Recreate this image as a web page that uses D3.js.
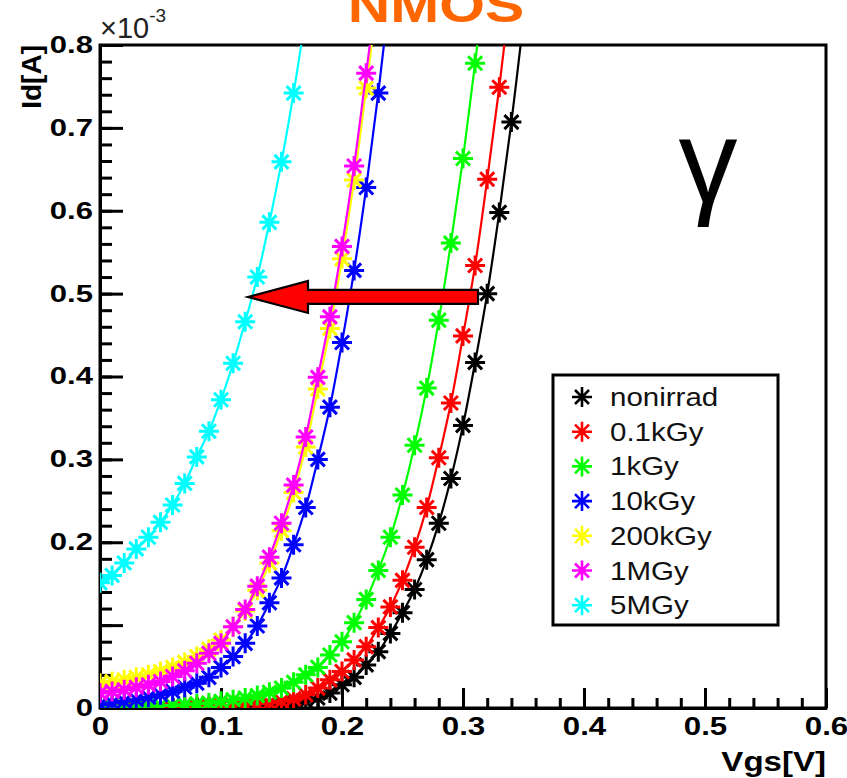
<!DOCTYPE html>
<html>
<head>
<meta charset="utf-8">
<script src="https://cdn.jsdelivr.net/npm/d3@7"></script>
<style>
  body { margin: 0; background: #fff; }
  svg { display: block; }
  text { font-family: "Liberation Sans", Arial, sans-serif; }
</style>
</head>
<body>
<svg id="chart" width="847" height="778"></svg>
<script>
// Vgs grid (V), one point every 10 mV
const vgs = [0, 0.01, 0.02, 0.03, 0.04, 0.05, 0.06, 0.07, 0.08, 0.09,
  0.10, 0.11, 0.12, 0.13, 0.14, 0.15, 0.16, 0.17, 0.18, 0.19,
  0.20, 0.21, 0.22, 0.23, 0.24, 0.25, 0.26, 0.27, 0.28, 0.29,
  0.30, 0.31, 0.32, 0.33, 0.34, 0.35];

// Id in units of 1e-3 A
const idNonirrad = [0.000, 0.000, 0.000, 0.000, 0.000, 0.001, 0.001, 0.001, 0.001, 0.001,
  0.002, 0.002, 0.002, 0.003, 0.003, 0.004, 0.006, 0.008, 0.012, 0.018,
  0.028, 0.037, 0.052, 0.068, 0.090, 0.115, 0.143, 0.179, 0.223, 0.277,
  0.341, 0.417, 0.500, 0.598, 0.707, 0.830];
const id01kGy = [0.000, 0.000, 0.000, 0.001, 0.001, 0.001, 0.001, 0.001, 0.002, 0.002,
  0.002, 0.003, 0.004, 0.005, 0.006, 0.008, 0.011, 0.016, 0.024, 0.034,
  0.044, 0.058, 0.074, 0.097, 0.122, 0.154, 0.194, 0.242, 0.302, 0.368,
  0.449, 0.534, 0.638, 0.749, 0.875];
const id1kGy = [0.001, 0.001, 0.002, 0.002, 0.002, 0.003, 0.003, 0.004, 0.005, 0.006,
  0.008, 0.010, 0.012, 0.015, 0.019, 0.024, 0.031, 0.040, 0.049, 0.064,
  0.080, 0.103, 0.131, 0.166, 0.206, 0.257, 0.317, 0.386, 0.468, 0.561,
  0.663, 0.778, 0.900];
const id10kGy = [0.004, 0.006, 0.008, 0.010, 0.013, 0.016, 0.020, 0.025, 0.030, 0.037,
  0.049, 0.062, 0.078, 0.099, 0.127, 0.157, 0.197, 0.242, 0.300, 0.363,
  0.441, 0.528, 0.628, 0.742, 0.870];
const id200kGy = [0.030, 0.032, 0.034, 0.037, 0.040, 0.044, 0.049, 0.055, 0.062, 0.071,
  0.082, 0.098, 0.117, 0.142, 0.175, 0.214, 0.260, 0.315, 0.385, 0.458,
  0.542, 0.637, 0.748, 0.865];
const id1MGy = [0.018, 0.020, 0.022, 0.025, 0.028, 0.032, 0.038, 0.045, 0.054, 0.066,
  0.078, 0.098, 0.119, 0.147, 0.182, 0.223, 0.269, 0.327, 0.399, 0.472,
  0.557, 0.654, 0.766, 0.880];
const id5MGy = [0.151, 0.160, 0.175, 0.192, 0.206, 0.224, 0.245, 0.271, 0.303, 0.334,
  0.372, 0.416, 0.466, 0.520, 0.586, 0.659, 0.742, 0.835];

const seriesNames = ["nonirrad", "0.1kGy", "1kGy", "10kGy", "200kGy", "1MGy", "5MGy"];
const seriesColors = ["#000000", "#ff0000", "#00ff00", "#0000ff", "#ffff00", "#ff00ff", "#00ffff"];
const seriesValues = [idNonirrad, id01kGy, id1kGy, id10kGy, id200kGy, id1MGy, id5MGy];

const xTicks = [0, 0.1, 0.2, 0.3, 0.4, 0.5, 0.6];
const xLabels = ["0", "0.1", "0.2", "0.3", "0.4", "0.5", "0.6"];
const yTicks = [0, 0.1, 0.2, 0.3, 0.4, 0.5, 0.6, 0.7, 0.8];
const yLabels = ["0", "", "0.2", "0.3", "0.4", "0.5", "0.6", "0.7", "0.8"];

// arrow: from nonirrad at 0.5e-3 A over to the 5MGy curve
const arrowFrom = [0.3124, 0.496];
const arrowTo = [0.1223, 0.496];

const svg = d3.select("#chart");
const padL = 100, padR = 826, padT = 45, padB = 708;

const x = d3.scaleLinear().domain([0, 0.6]).range([padL, padR]);
const y = d3.scaleLinear().domain([0, 0.8]).range([padB, padT]);

// stretch text horizontally, the original picture is a bit wide
function stretch(sel, k) {
  sel.each(function () {
    const w = this.getComputedTextLength();
    if (w > 0) d3.select(this).attr("textLength", w * k).attr("lengthAdjust", "spacingAndGlyphs");
  });
}

svg.append("defs").append("clipPath").attr("id", "plotclip")
  .append("rect").attr("x", padL).attr("y", padT).attr("width", padR - padL).attr("height", padB - padT);

// minor ticks
const yMinor = svg.append("g").attr("transform", `translate(${padL},0)`)
  .call(d3.axisLeft(y).tickValues(d3.range(0, 41).map(i => i * 0.02)).tickSize(-12).tickSizeOuter(0).tickFormat(""));
const xMinor = svg.append("g").attr("transform", `translate(0,${padB})`)
  .call(d3.axisBottom(x).tickValues(d3.range(0, 31).map(i => i * 0.02)).tickSize(-10).tickSizeOuter(0).tickFormat(""));

// major ticks + labels
const yAxis = svg.append("g").attr("transform", `translate(${padL},0)`)
  .call(d3.axisLeft(y).tickValues(yTicks).tickSize(-23).tickSizeOuter(0).tickPadding(7)
    .tickFormat((d, i) => yLabels[i]));
const xAxis = svg.append("g").attr("transform", `translate(0,${padB})`)
  .call(d3.axisBottom(x).tickValues(xTicks).tickSize(-20).tickSizeOuter(0).tickPadding(9)
    .tickFormat((d, i) => xLabels[i]));

[yMinor, xMinor, yAxis, xAxis].forEach(g => {
  g.selectAll("line").attr("stroke", "#000").attr("stroke-width", 3);
  g.select(".domain").attr("stroke", "#000").attr("stroke-width", 3);
});
yAxis.selectAll("text").attr("font-size", 23).attr("font-weight", "bold").attr("fill", "#000")
  .call(stretch, 1.35);
xAxis.selectAll("text").attr("font-size", 25).attr("font-weight", "bold").attr("fill", "#000")
  .call(stretch, 1.25);

// frame
svg.append("rect").attr("x", padL).attr("y", padT).attr("width", padR - padL).attr("height", padB - padT)
  .attr("fill", "none").attr("stroke", "#000").attr("stroke-width", 3);

// axis titles
svg.append("text").attr("x", padR).attr("y", 771).attr("text-anchor", "end")
  .attr("font-size", 28).attr("font-weight", "bold").text("Vgs[V]").call(stretch, 1.18);
svg.append("text").attr("transform", `translate(41,${padT}) rotate(-90)`).attr("text-anchor", "end")
  .attr("font-size", 28).attr("font-weight", "bold").text("Id[A]");
const expo = svg.append("text").attr("x", padL).attr("y", 38).attr("font-size", 29).attr("fill", "#222");
expo.append("tspan").text("\u00d710");
expo.append("tspan").attr("font-size", 19).attr("dy", -16).text("-3");

// title, cut off at the top
svg.append("text").attr("x", 436).attr("y", 22).attr("text-anchor", "middle")
  .attr("font-size", 49).attr("font-weight", "bold").attr("fill", "#ff6600").text("NMOS").call(stretch, 1.2);

// curves
const line = d3.line().x((d, i) => x(vgs[i])).y(d => y(d)).curve(d3.curveCatmullRom);
const star = "M-10,0H10M0,-10V10M-7,-7L7,7M-7,7L7,-7";

const plot = svg.append("g").attr("clip-path", "url(#plotclip)");
seriesValues.forEach((vals, s) => {
  const g = plot.append("g");
  g.append("path").attr("d", line(vals)).attr("fill", "none")
    .attr("stroke", seriesColors[s]).attr("stroke-width", 2.2);
  g.selectAll("path.m").data(vals).join("path").attr("class", "m")
    .attr("transform", (d, i) => `translate(${x(vgs[i])},${y(d)})`)
    .attr("d", star).attr("fill", "none").attr("stroke", seriesColors[s]).attr("stroke-width", 3);
});

// arrow
const ax0 = x(arrowFrom[0]), ax1 = x(arrowTo[0]), ay = y(arrowTo[1]);
const headLen = 60, shaftH = 7, headH = 16;
const arrowPts = [[ax0, ay - shaftH], [ax1 + headLen, ay - shaftH], [ax1 + headLen, ay - headH], [ax1, ay],
  [ax1 + headLen, ay + headH], [ax1 + headLen, ay + shaftH], [ax0, ay + shaftH]];
svg.append("polygon").attr("points", arrowPts.map(p => p.join(",")).join(" "))
  .attr("fill", "#ff0000").attr("stroke", "#000").attr("stroke-width", 2.2);

// gamma
svg.append("text").attr("x", 708).attr("y", 202).attr("text-anchor", "middle")
  .attr("font-family", "DejaVu Serif, serif").attr("font-size", 118).text("\u03b3");

// legend
const lg = svg.append("g");
lg.append("rect").attr("x", 553).attr("y", 375).attr("width", 225).attr("height", 250)
  .attr("fill", "#fff").attr("stroke", "#000").attr("stroke-width", 3);
seriesNames.forEach((name, i) => {
  const ly = 397 + i * 34.7;
  lg.append("path").attr("transform", `translate(582,${ly})`).attr("d", star)
    .attr("fill", "none").attr("stroke", seriesColors[i]).attr("stroke-width", 2.6);
  lg.append("text").attr("x", 610).attr("y", ly).attr("dy", "0.36em").attr("font-size", 25)
    .attr("fill", "#111").text(name).call(stretch, 1.18);
});
</script>
</body>
</html>
